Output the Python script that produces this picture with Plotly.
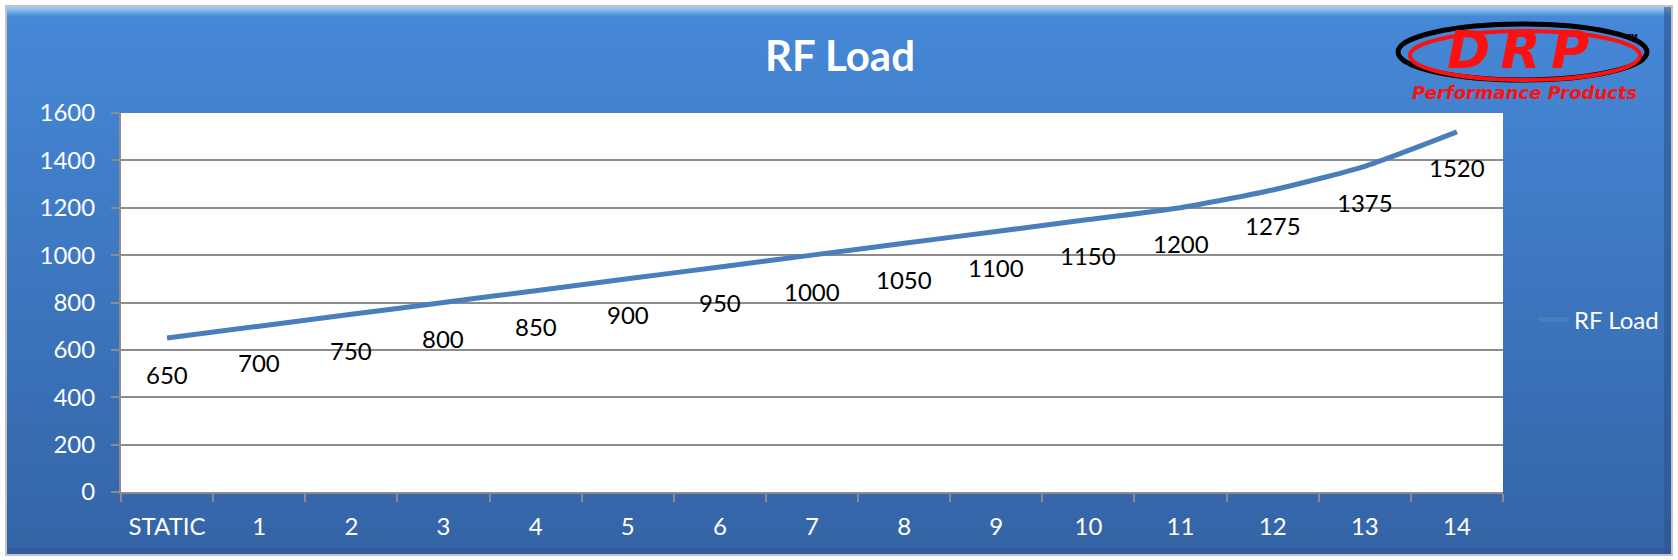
import base64
import plotly.graph_objects as go

# data
categories = ["STATIC", "1", "2", "3", "4", "5", "6", "7", "8", "9", "10", "11", "12", "13", "14"]
rf_load = [650, 700, 750, 800, 850, 900, 950, 1000, 1050, 1100, 1150, 1200, 1275, 1375, 1520]
y_ticks = [0, 200, 400, 600, 800, 1000, 1200, 1400, 1600]

W, H = 1678, 560
L, R, T, B = 121, 175, 113, 68
PW, PH = W - L - R, H - T - B


def px(x):
    return (x - L) / PW


def py(y):
    return (H - B - y) / PH


# background panel (gradient + bevel) as an svg image
svg = f"""<svg xmlns="http://www.w3.org/2000/svg" width="{W}" height="{H}" viewBox="0 0 {W} {H}" preserveAspectRatio="none">
<defs>
<linearGradient id="g" x1="0" y1="0" x2="0" y2="1">
<stop offset="0" stop-color="#4689d8"/><stop offset="1" stop-color="#3464a6"/></linearGradient>
<linearGradient id="b" x1="0" y1="0" x2="0" y2="1">
<stop offset="0" stop-color="#9fd0fa"/><stop offset="1" stop-color="#4a8bd8"/></linearGradient>
</defs>
<rect width="{W}" height="{H}" fill="#ffffff"/>
<rect x="5" y="5" width="1668" height="551" fill="#c4c4c4"/>
<rect x="7" y="7" width="1664" height="547" fill="url(#g)"/>
<rect x="7" y="7" width="1664" height="9" fill="url(#b)"/>
<rect x="1664" y="7" width="7" height="547" fill="#2c5590" opacity="0.6"/>
<rect x="7" y="548" width="1664" height="6" fill="#2c5590" opacity="0.5"/>
</svg>"""
svg_uri = "data:image/svg+xml;base64," + base64.b64encode(svg.encode()).decode()

fig = go.Figure()

fig.add_trace(
    go.Scatter(
        x=categories,
        y=rf_load,
        name="RF Load",
        mode="lines",
        line=dict(color="#4a7ebb", width=5, shape="spline", smoothing=0.6),
    )
)

# data labels below the line
for cat, val in zip(categories, rf_load):
    fig.add_annotation(
        x=cat, y=val, text=str(val), showarrow=False, yshift=-36,
        font=dict(family="Lato", size=24, color="black"),
    )

# white plot area (the panel image sits above plot_bgcolor)
fig.add_shape(type="rect", xref="paper", yref="paper", x0=0, x1=1, y0=0, y1=1,
              fillcolor="white", line_width=0, layer="below")

# DRP logo
fig.add_shape(type="circle", xref="paper", yref="paper",
              x0=px(1398), x1=px(1647), y0=py(80), y1=py(24),
              line=dict(color="black", width=5))
fig.add_shape(type="circle", xref="paper", yref="paper",
              x0=px(1410), x1=px(1640), y0=py(80), y1=py(31),
              line=dict(color="#ff1010", width=4))
fig.add_annotation(xref="paper", yref="paper", x=px(1518), y=py(50),
                   xanchor="center", yanchor="middle", showarrow=False,
                   text="<b><i>D\u2009R\u2009P</i></b>",
                   font=dict(family="DejaVu Sans", size=52, color="#ff1010"))
fig.add_annotation(xref="paper", yref="paper", x=px(1632), y=py(37),
                   xanchor="center", yanchor="middle", showarrow=False,
                   text="<b>TM</b>", font=dict(family="DejaVu Sans", size=7, color="black"))
fig.add_annotation(xref="paper", yref="paper", x=px(1525), y=py(92),
                   xanchor="center", yanchor="middle", showarrow=False,
                   text="<b><i>Performance Products</i></b>",
                   font=dict(family="DejaVu Sans", size=18, color="#ff1010"))

fig.add_layout_image(
    source=svg_uri, xref="paper", yref="paper",
    x=px(0), y=py(0), sizex=W / PW, sizey=H / PH,
    xanchor="left", yanchor="top", sizing="stretch", layer="below",
)

fig.update_layout(
    width=W,
    height=H,
    margin=dict(l=L, r=R, t=T, b=B),
    paper_bgcolor="#ffffff",
    plot_bgcolor="#ffffff",
    font=dict(family="Lato", size=24, color="white"),
    title=dict(text="<b>RF Load</b>", x=840 / W, xanchor="center",
               y=1 - 56 / H, yanchor="middle",
               font=dict(family="Lato", size=42, color="white")),
    showlegend=True,
    legend=dict(x=px(1534), y=py(320), xanchor="left", yanchor="middle",
                bgcolor="rgba(0,0,0,0)", font=dict(size=24, color="white")),
)

fig.update_xaxes(
    type="category",
    range=[-0.5, len(categories) - 0.5],
    tickson="boundaries",
    ticks="outside",
    ticklen=8,
    tickwidth=2,
    tickcolor="#8c8c8c",
    showline=True,
    linecolor="#8c8c8c",
    linewidth=2,
    showgrid=False,
    tickfont=dict(size=24, color="white"),
    ticklabelstandoff=12,
)
fig.update_yaxes(
    range=[0, 1600],
    tickvals=y_ticks,
    ticks="outside",
    ticklen=8,
    tickwidth=2,
    tickcolor="#8c8c8c",
    showline=True,
    linecolor="#8c8c8c",
    linewidth=2,
    showgrid=True,
    gridcolor="#8c8c8c",
    gridwidth=2,
    zeroline=False,
    tickfont=dict(size=24, color="white"),
    ticklabelstandoff=11,
)

fig.write_html("out.html", config={"displayModeBar": False},
               post_script="document.body.style.margin='0';")
